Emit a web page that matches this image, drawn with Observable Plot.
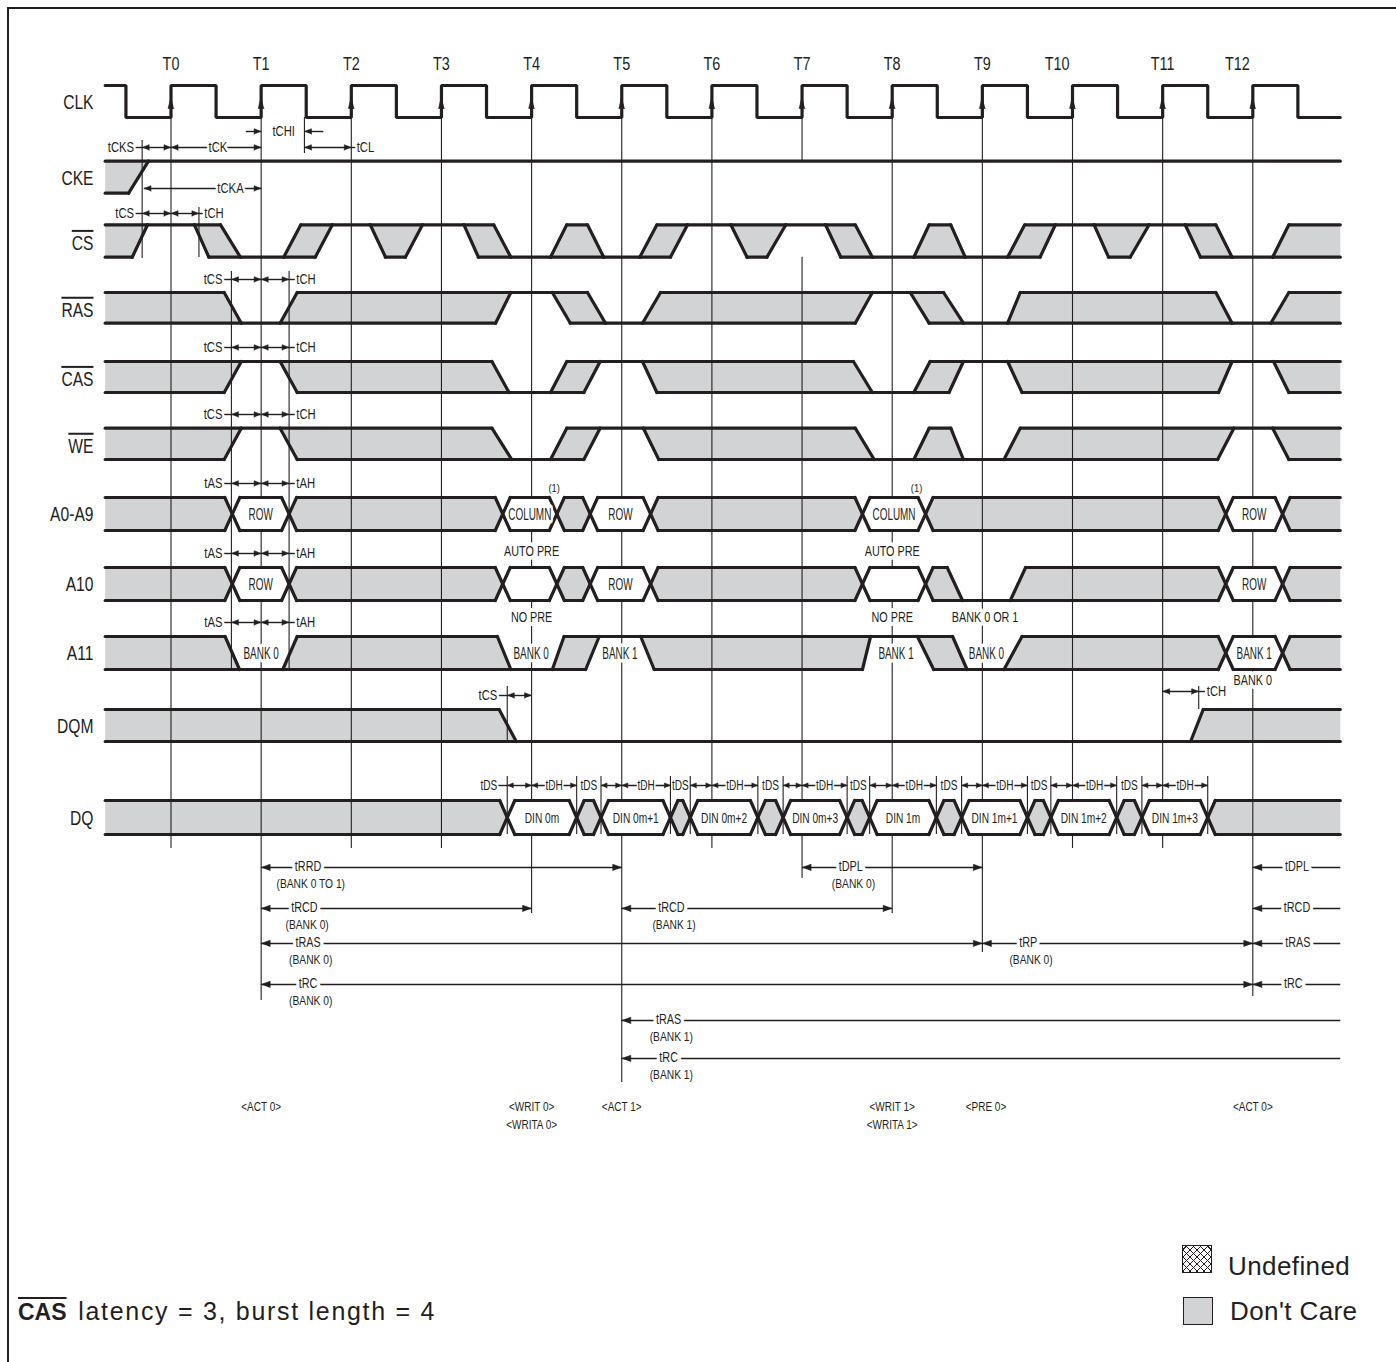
<!DOCTYPE html>
<html>
<head>
<meta charset="utf-8">
<title>SDRAM write timing</title>
<script src="https://cdn.jsdelivr.net/npm/d3@7"></script>
<script src="https://cdn.jsdelivr.net/npm/@observablehq/plot@0.6"></script>
<style>
  html, body { margin: 0; padding: 0; background: #fff; }
  #fig { position: relative; width: 1396px; height: 1362px; overflow: hidden; background: #fff; color: #231f20;
         font-family: "Liberation Sans", Arial, Helvetica, sans-serif; }
  #chart { position: absolute; left: 0; top: 0; }
  #frame { position: absolute; left: 7px; top: 7px; width: 1420px; height: 1420px;
           border-left: 2px solid #231f20; border-top: 2px solid #231f20; pointer-events: none; }
  .swatch { position: absolute; width: 28px; height: 26px; border: 1.5px solid #231f20; }
  .hatch { background:
      repeating-linear-gradient(45deg, #231f20 0 1.1px, transparent 1.1px 5px),
      repeating-linear-gradient(-45deg, #231f20 0 1.1px, transparent 1.1px 5px); background-color: #fff; }
  .keytext { position: absolute; font-size: 26px; line-height: 26px; letter-spacing: 0.4px; white-space: nowrap; }
  #note { position: absolute; left: 18px; font-size: 25px; line-height: 25px; white-space: nowrap; }
  #note .cas { font-weight: bold; font-size: 23px; text-decoration: overline; letter-spacing: 0; }
  #note .rest { letter-spacing: 1.7px; padding-left: 3px; }
</style>
</head>
<body>
<div id="fig">
  <div id="chart"></div>
  <div class="swatch hatch" style="left:1182px; top:1245px;"></div>
  <div class="keytext" style="left:1228px; top:1253px;">Undefined</div>
  <div class="swatch" style="left:1183px; top:1297px; background:#d1d3d4;"></div>
  <div class="keytext" style="left:1230px; top:1298px;">Don't Care</div>
  <div id="note" style="top:1299px;"><span class="cas">CAS</span><span class="rest">&nbsp;latency = 3, burst length = 4</span></div>
  <div id="frame"></div>
</div>
<script>
// ================= DATA (times in clock periods, T0 = 0) =================
const clockTicks = ["T0","T1","T2","T3","T4","T5","T6","T7","T8","T9","T10","T11","T12"];
const clockTickLabelAt = [0, 1, 2, 3, 4, 5, 6, 7, 8, 9, 9.83, 11, 11.83];
const signalNames = ["CLK","CKE","CS","RAS","CAS","WE","A0-A9","A10","A11","DQM","DQ"];
const activeLowSignals = ["CS","RAS","CAS","WE"];

// Waveforms: states ("H" high, "L" low, "X" don't care, "V" valid bus, optional ":label")
// separated by transitions: [time at top rail, time at bottom rail] or a single bus-crossing time.
const cke = ["X", [-0.25, -0.47], "H"];
const cs  = ["X", [-0.26,-0.43], "H", [0.26,0.42], "X", [0.55,0.77], "L", [1.44,1.25], "X", [1.79,1.60], "H",
             [2.21,2.38], "X", [2.79,2.60], "H", [3.25,3.41], "X", [3.58,3.77], "L", [4.39,4.21], "X", [4.62,4.80], "L",
             [5.39,5.20], "X", [5.73,5.54], "H", [6.21,6.39], "X", [6.82,6.61], "H", [7.26,7.43], "X", [7.59,7.78], "L",
             [8.41,8.24], "X", [8.65,8.81], "L", [9.47,9.28], "X", [9.81,9.64], "H", [10.24,10.40], "X", [10.85,10.64], "H",
             [11.25,11.42], "X", [11.59,11.77], "L", [12.40,12.22], "X"];
const ras = ["X", [0.59,0.78], "L", [1.40,1.21], "X", [3.77,3.60], "H", [4.23,4.43], "X", [4.62,4.82], "L",
             [5.43,5.23], "X", [7.78,7.59], "H", [8.20,8.41], "X", [8.57,8.79], "L", [9.42,9.28], "X",
             [11.59,11.77], "L", [12.40,12.20], "X"];
const cas = ["X", [0.78,0.59], "H", [1.21,1.40], "X", [3.56,3.75], "L", [4.39,4.21], "X", [4.76,4.58], "H",
             [5.23,5.39], "X", [7.57,7.78], "L", [8.42,8.24], "X", [8.79,8.63], "H", [9.28,9.44], "X",
             [11.77,11.62], "H", [12.23,12.40], "X"];
const we  = ["X", [0.78,0.59], "H", [1.21,1.40], "X", [3.56,3.78], "L", [4.39,4.21], "X", [4.76,4.58], "H",
             [5.24,5.41], "X", [7.59,7.80], "L", [8.41,8.24], "X", [8.65,8.79], "L", [9.42,9.24], "X",
             [11.79,11.61], "H", [12.22,12.40], "X"];
const a0a9 = ["X", 0.68, "V:ROW", 1.31, "X", 3.68, "V:COLUMN", 4.28, "X", 4.65, "V:ROW", 5.32, "X",
              7.67, "V:COLUMN", 8.37, "X", 11.70, "V:ROW", 12.33, "X"];
const a10  = ["X", 0.68, "V:ROW", 1.31, "X", 3.68, "V", 4.28, "X", 4.65, "V:ROW", 5.32, "X",
              7.67, "V", 8.37, "X", [8.61,8.78], "L", [9.48,9.31], "X", 11.70, "V:ROW", 12.33, "X"];
const a11  = ["X", [0.60,0.76], "L:BANK 0", [1.40,1.24], "X", [3.62,3.77], "L:BANK 0", [4.36,4.23], "X",
              [4.75,4.60], "H:BANK 1", [5.21,5.36], "X", [7.76,7.67], "H:BANK 1", [8.28,8.46], "X",
              [8.67,8.83], "L:BANK 0", [9.44,9.24], "X", 11.70, "V:BANK 1", 12.33, "X"];
const dqm  = ["X", [3.64,3.83], "L", [11.45,11.31], "X"];
const dq   = ["X", 3.73, "V:DIN 0m", 4.50, "X", 4.77, "V:DIN 0m+1", 5.54, "X", 5.76, "V:DIN 0m+2", 6.51, "X",
              6.79, "V:DIN 0m+3", 7.50, "X", 7.75, "V:DIN 1m", 8.49, "X", 8.77, "V:DIN 1m+1", 9.50, "X",
              9.76, "V:DIN 1m+2", 10.49, "X", 10.77, "V:DIN 1m+3", 11.50, "X"];
const dqBeatEdges = [4, 5, 6, 7, 8, 9, 10, 11];

// Timing parameters: [row, from, to, arrowheads, label, label at, anchor]
const topTimings = [
  ["tck", -0.40, -0.32, "none", "tCKS", -0.41, "end"],
  ["tck", -0.32, 0, "both"],
  ["tck", 0, 1, "both", "tCK", 0.52, "middle"],
  ["tck", 1.48, 2, "both"],
  ["tck", 2, 2.05, "none", "tCL", 2.06, "start"],
  ["tchi", 0.83, 1, "end"],
  ["tchi", 1.48, 1.69, "start"],
  ["tchi", null, null, "none", "tCHI", 1.25, "middle"],
  ["tcka", -0.30, 1, "both", "tCKA", 0.66, "middle"],
  ["cs", -0.40, -0.32, "none", "tCS", -0.41, "end"],
  ["cs", -0.32, 0, "both"],
  ["cs", 0, 0.31, "both"],
  ["cs", 0.31, 0.36, "none", "tCH", 0.37, "start"],
  ["dqmL", 3.63, 3.73, "none", "tCS", 3.62, "end"],
  ["dqmL", 3.73, 4, "both"],
  ["dqmR", 11, 11.40, "both"],
  ["dqmR", 11.40, 11.47, "none", "tCH", 11.49, "start"],
];
const setupHoldRows = [["ras","tCS","tCH"], ["cas","tCS","tCH"], ["we","tCS","tCH"],
                       ["a09","tAS","tAH"], ["a10","tAS","tAH"], ["a11","tAS","tAH"]];
const setupHoldTimes = [0.67, 1, 1.31];
const refBarTimes = [-0.32, 0.31, 1.48, 0.67, 1.31, 3.73, 11.40];

// Lower parameters: [row, from, to, arrowheads, label, label at, sub-label]
const lowerTimings = [
  ["r1", 1, 5, "both", "tRRD", 1.52, "(BANK 0 TO 1)"],
  ["r1", 7, 9, "both", "tDPL", 7.54, "(BANK 0)"],
  ["r1", 12, 12.97, "start", "tDPL", 12.49, ""],
  ["r2", 1, 4, "both", "tRCD", 1.48, "(BANK 0)"],
  ["r2", 5, 8, "both", "tRCD", 5.55, "(BANK 1)"],
  ["r2", 12, 12.97, "start", "tRCD", 12.49, ""],
  ["r3", 1, 9, "both", "tRAS", 1.52, "(BANK 0)"],
  ["r3", 9, 12, "both", "tRP", 9.51, "(BANK 0)"],
  ["r3", 12, 12.97, "start", "tRAS", 12.50, ""],
  ["r4", 1, 12, "both", "tRC", 1.52, "(BANK 0)"],
  ["r4", 12, 12.97, "start", "tRC", 12.45, ""],
  ["r5", 5, 12.97, "start", "tRAS", 5.52, "(BANK 1)"],
  ["r6", 5, 12.97, "start", "tRC", 5.52, "(BANK 1)"],
];
const busNotes = [[4.25, "note1", "(1)"], [8.27, "note1", "(1)"], [4, "autopre", "AUTO PRE"], [8, "autopre", "AUTO PRE"],
                  [4, "nopre", "NO PRE"], [8, "nopre", "NO PRE"], [9.03, "nopre", "BANK 0 OR 1"], [12, "bank0", "BANK 0"]];
const commandLabels = [[1, "<ACT 0>"], [4, "<WRIT 0>", "<WRITA 0>"], [5, "<ACT 1>"], [8, "<WRIT 1>", "<WRITA 1>"],
                       [9.04, "<PRE 0>"], [12, "<ACT 0>"]];

// ================= LAYOUT (pixels) =================
const L = {
  width: 1396, height: 1140, x0: 170.5, pxPerClock: 90.15, tStart: -0.73, tEnd: 12.97, nameX: -0.86,
  rows: { CLK: [85, 117], CKE: [160.7, 192.7], CS: [224.3, 256.7], RAS: [292, 322.7], CAS: [361, 392],
          WE: [427.7, 459], "A0-A9": [497, 530], A10: [567, 600], A11: [636, 669], DQM: [709, 741], DQ: [800, 834] },
  ann: { tlabels: 64, tchi: 131, tck: 147, tcka: 188, cs: 213, ras: 279, cas: 347, we: 414, a09: 483, a10: 553,
         a11: 622, dqmL: 695, dqmR: 691, dq: 785, r1: 867, r2: 908, r3: 943, r4: 984, r5: 1020, r6: 1058,
         cmd1: 1106, cmd2: 1124, note1: 488, autopre: 551, nopre: 617, bank0: 680 },
  tLineTop: 117,
  tLineBottom: [848, 1000, 848, 848, 913, 1082, 848, 878, 913, 952, 848, 848, 996],
  tLineGap: { 7: [160.7, 256.7] },
  refBarY: [[140, 258], [207, 257], [117, 153], [271, 669], [271, 669], [686, 741], [686, 709]],
  dqBarY: [776, 834],
};
const INK = "#231f20", GREY = "#d1d3d4";
const FONT = "'Liberation Sans', Arial, Helvetica, sans-serif";
const u = px => px / L.pxPerClock;
const HX = u(7.5);

// ================= BUILD GEOMETRY =================
const signalSeqs = { CKE: cke, CS: cs, RAS: ras, CAS: cas, WE: we, "A0-A9": a0a9, A10: a10, A11: a11, DQM: dqm, DQ: dq };
const outline = [], greyPts = [], whitePts = [], busText = [], dinText = [];
let polyId = 0;
for (const [name, seq] of Object.entries(signalSeqs)) {
  const [top, bot] = L.rows[name];
  const mid = (top + bot) / 2;
  const phases = seq.filter(d => typeof d === "string");
  const edges = seq.filter(d => typeof d !== "string");
  const edgeGeom = (e, side) => {
    if (typeof e === "number") {
      const xo = side === "R" ? e - HX : e + HX;
      return { xt: xo, xb: xo, pts: [[xo, top], [e, mid], [xo, bot]] };
    }
    return { xt: e[0], xb: e[1], pts: [[e[0], top], [e[1], bot]] };
  };
  phases.forEach((p, i) => {
    const [state, label] = p.split(":");
    const lft = i === 0 ? { xt: L.tStart, xb: L.tStart, pts: [[L.tStart, top], [L.tStart, bot]] } : edgeGeom(edges[i - 1], "L");
    const rgt = i === phases.length - 1 ? { xt: L.tEnd, xb: L.tEnd, pts: [[L.tEnd, top], [L.tEnd, bot]] } : edgeGeom(edges[i], "R");
    if (state !== "L") outline.push({ x1: lft.xt, y1: top, x2: rgt.xt, y2: top });
    if (state !== "H") outline.push({ x1: lft.xb, y1: bot, x2: rgt.xb, y2: bot });
    if (state === "X" || state === "V") {
      const poly = [...lft.pts, ...rgt.pts.slice().reverse()];
      const target = state === "X" ? greyPts : whitePts;
      poly.forEach(([x, y]) => target.push({ id: polyId, x, y }));
      polyId++;
    }
    if (label) (label.startsWith("DIN") ? dinText : busText)
      .push({ x: (lft.xt + lft.xb + rgt.xt + rgt.xb) / 4, y: mid + 0.5, text: label });
  });
  edges.forEach(e => {
    if (typeof e === "number") {
      outline.push({ x1: e - HX, y1: top, x2: e + HX, y2: bot }, { x1: e - HX, y1: bot, x2: e + HX, y2: top });
    } else outline.push({ x1: e[0], y1: top, x2: e[1], y2: bot });
  });
}

// clock
const [ckHi, ckLo] = L.rows.CLK;
const clockPts = [{ x: L.tStart, y: ckHi }, { x: -0.5, y: ckHi }, { x: -0.5, y: ckLo }];
clockTicks.forEach((_, k) => clockPts.push({ x: k, y: ckLo }, { x: k, y: ckHi }, { x: k + 0.5, y: ckHi }, { x: k + 0.5, y: ckLo }));
clockPts.push({ x: L.tEnd, y: ckLo });
const heads = [];
let headId = 0;
clockTicks.forEach((_, k) => {
  [[k, 96], [k - u(2.9), 108], [k + u(2.9), 108]].forEach(([x, y]) => heads.push({ id: headId, x, y }));
  headId++;
});
const tLines = [];
clockTicks.forEach((_, k) => {
  const gap = L.tLineGap[k];
  if (gap) tLines.push({ t: k, y1: L.tLineTop, y2: gap[0] }, { t: k, y1: gap[1], y2: L.tLineBottom[k] });
  else tLines.push({ t: k, y1: L.tLineTop, y2: L.tLineBottom[k] });
});

// annotations
const annLines = [], topText = [], dqText = [], lowText = [], subText = [], noteText = [], smallNote = [], cmdText = [];
function addHead(tip, y, dir, len, half) {
  const b = tip - dir * u(len);
  [[tip, y], [b, y - half], [b, y + half]].forEach(([x, yy]) => heads.push({ id: headId, x, y: yy }));
  headId++;
}
function addSpan(row, from, to, hd, len = 7, half = 2.8) {
  const y = L.ann[row];
  annLines.push({ x1: from, x2: to, y });
  if (hd === "both" || hd === "start") addHead(from, y, -1, len, half);
  if (hd === "both" || hd === "end") addHead(to, y, 1, len, half);
}
topTimings.forEach(([row, from, to, hd, label, at, anchor]) => {
  if (from != null) addSpan(row, from, to, hd);
  if (label) topText.push({ x: at, y: L.ann[row], text: label, anchor });
});
setupHoldRows.forEach(([row, s, h]) => {
  const [a, t, b] = setupHoldTimes;
  annLines.push({ x1: a - 0.09, x2: a, y: L.ann[row] });
  topText.push({ x: a - 0.10, y: L.ann[row], text: s, anchor: "end" });
  addSpan(row, a, t, "both");
  addSpan(row, t, b, "both");
  annLines.push({ x1: b, x2: b + 0.07, y: L.ann[row] });
  topText.push({ x: b + 0.08, y: L.ann[row], text: h, anchor: "start" });
});
const dqCross = dq.filter(d => typeof d === "number");
dqBeatEdges.forEach((T, k) => {
  const c = dqCross[2 * k], e = dqCross[2 * k + 1];
  addSpan("dq", c, T, "both", 6, 2.6);
  addSpan("dq", T, e, "both", 6, 2.6);
  dqText.push({ x: (T + e) / 2, y: L.ann.dq, text: "tDH" });
  if (k === 0) {
    annLines.push({ x1: c - 0.1, x2: c, y: L.ann.dq });
    dqText.push({ x: c - 0.11, y: L.ann.dq, text: "tDS", anchor: "end" });
  } else dqText.push({ x: (dqCross[2 * k - 1] + c) / 2, y: L.ann.dq, text: "tDS" });
});
lowerTimings.forEach(([row, from, to, hd, label, at, sub]) => {
  addSpan(row, from, to, hd, 9, 3.2);
  lowText.push({ x: at, y: L.ann[row] - 1, text: label });
  if (sub) subText.push({ x: at + 0.03, y: L.ann[row] + 16, text: sub });
});
busNotes.forEach(([t, row, s]) => (s === "(1)" ? smallNote : noteText).push({ x: t, y: L.ann[row], text: s }));
commandLabels.forEach(([t, ...lines]) => lines.forEach((s, i) => cmdText.push({ x: t, y: i ? L.ann.cmd2 : L.ann.cmd1, text: s })));
const bars = refBarTimes.map((t, i) => ({ t, y1: L.refBarY[i][0], y2: L.refBarY[i][1] }));
dqCross.forEach(c => bars.push({ t: c, y1: L.dqBarY[0], y2: L.dqBarY[1] }));

const tickText = clockTicks.map((s, i) => ({ x: clockTickLabelAt[i], y: L.ann.tlabels, text: s }));
const nameText = signalNames.map(s => {
  const [a, b] = L.rows[s];
  return { x: L.nameX, y: (a + b) / 2 + (activeLowSignals.includes(s) ? 2.5 : 1), text: s };
});

// ================= MARKS =================
const textConds = [];
function texts(data, { size, anchor = "middle", halo = 0, cond = 0.78 }) {
  const out = [];
  for (const a of ["start", "middle", "end"]) {
    const sub = data.filter(d => (d.anchor ?? anchor) === a);
    if (!sub.length) continue;
    textConds.push(cond);
    out.push(Plot.text(sub, {
      x: "x", y: "y", text: "text", fontSize: size, textAnchor: a, fill: INK,
      ...(halo ? { stroke: "white", strokeWidth: halo } : {})
    }));
  }
  return out;
}

const marks = [
  Plot.line(greyPts, { x: "x", y: "y", z: "id", fill: GREY, stroke: "none" }),
  Plot.ruleX(tLines, { x: "t", y1: "y1", y2: "y2", stroke: INK, strokeWidth: 1.1 }),
  Plot.line(whitePts, { x: "x", y: "y", z: "id", fill: "white", stroke: "none" }),
  Plot.link(outline, { x1: "x1", y1: "y1", x2: "x2", y2: "y2", stroke: INK, strokeWidth: 3.2, strokeLinecap: "round" }),
  Plot.line(clockPts, { x: "x", y: "y", stroke: INK, strokeWidth: 3.2, strokeLinejoin: "miter" }),
  Plot.link(annLines, { x1: "x1", x2: "x2", y1: "y", y2: "y", stroke: INK, strokeWidth: 1.4 }),
  Plot.line(heads, { x: "x", y: "y", z: "id", fill: INK, stroke: INK, strokeWidth: 0.6 }),
  ...texts(tickText, { size: 18, cond: 0.8 }),
  ...texts(nameText, { size: 20, anchor: "end", cond: 0.78 }),
  ...texts(topText, { size: 15, halo: 6, cond: 0.75 }),
  ...texts(busText, { size: 16, halo: 7, cond: 0.62 }),
  ...texts(dinText, { size: 14.5, halo: 3, cond: 0.7 }),
  ...texts(noteText, { size: 15, halo: 8, cond: 0.72 }),
  ...texts(smallNote, { size: 11, halo: 2, cond: 0.85 }),
  ...texts(dqText, { size: 14, halo: 4, cond: 0.72 }),
  ...texts(lowText, { size: 15, halo: 9, cond: 0.72 }),
  ...texts(subText, { size: 12.5, halo: 3, cond: 0.82 }),
  ...texts(cmdText, { size: 12.5, cond: 0.8 }),
  Plot.ruleX(bars, { x: "t", y1: "y1", y2: "y2", stroke: INK, strokeWidth: 1.1 }),
];

const chart = Plot.plot({
  width: L.width, height: L.height, margin: 0,
  x: { domain: [0, 12], range: [L.x0, L.x0 + 12 * L.pxPerClock], axis: null },
  y: { domain: [0, L.height], range: [0, L.height], axis: null },
  style: { fontFamily: FONT, background: "white", color: INK, overflow: "visible" },
  marks
});
document.getElementById("chart").appendChild(chart);

// ================= TYPOGRAPHY POST-PROCESS (condensed face, overlines) =================
chart.querySelectorAll('g[aria-label="text"]').forEach((g, i) => {
  const k = textConds[i] ?? 0.78;
  g.setAttribute("paint-order", "stroke");
  g.setAttribute("stroke-linejoin", "round");
  g.querySelectorAll("text").forEach(t => {
    const s = t.textContent;
    if (activeLowSignals.includes(s)) t.style.textDecoration = "overline";
    const w = t.getComputedTextLength();
    t.setAttribute("textLength", (w * k).toFixed(2));
    t.setAttribute("lengthAdjust", "spacingAndGlyphs");
  });
});
</script>
</body>
</html>
